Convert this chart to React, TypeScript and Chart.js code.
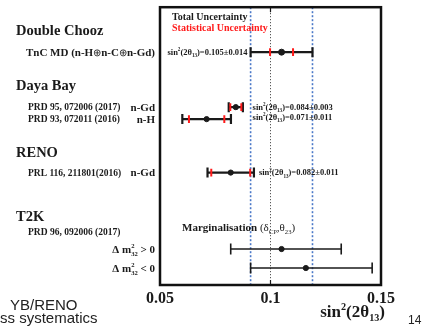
import React, { useEffect, useRef } from "react";
import { Chart, registerables } from "chart.js";

Chart.register(...registerables);

// ---- data ----
const experiments = [
  "Double Chooz TnC MD",
  "Daya Bay n-Gd",
  "Daya Bay n-H",
  "RENO n-Gd",
  "T2K Δm²32 > 0",
  "T2K Δm²32 < 0",
];
const rowPos = [4.5, 10.0, 11.2, 16.55, 24.2, 26.1];
const central = [0.105, 0.0843, 0.0711, 0.082, 0.105, 0.116];
const errLow = [0.014, 0.0032, 0.011, 0.0105, 0.023, 0.025];
const errHigh = [0.014, 0.0032, 0.011, 0.0105, 0.027, 0.03];
const statErr = [0.0052, 0.0025, 0.008, 0.0088, 0, 0];
const resultText = ["0.105±0.014", "0.084±0.003", "0.071±0.011", "0.082±0.011", "", ""];
const xTicks = [0.05, 0.1, 0.15];
const xTickLabels = ["0.05", "0.1", "0.15"];
const refValue = 0.1;
const bandLow = central[0] - errLow[0];
const bandHigh = central[0] + errHigh[0];
const Y_MAX = 27.8;

const SERIF = '"Liberation Serif", "Times New Roman", serif';
const SANS = '"Liberation Sans", Arial, sans-serif';
const INK = "#1a1a1a";
const RED = "#ff1a1a";
const BLUE = "#4a78c8";

type Seg = { t: string; s?: number; dy?: number; adv?: boolean; w?: string };

function rich(
  ctx: CanvasRenderingContext2D,
  segs: Seg[],
  x: number,
  yc: number,
  size: number,
  align: "left" | "right" | "center",
  color: string,
  weight = "bold",
  family = SERIF
) {
  const base = yc + size * 0.34;
  const ws = segs.map((g) => {
    ctx.font = `${g.w ?? weight} ${size * (g.s ?? 1)}px ${family}`;
    return g.adv === false ? 0 : ctx.measureText(g.t).width;
  });
  const total = ws.reduce((a, b) => a + b, 0);
  let cx = align === "right" ? x - total : align === "center" ? x - total / 2 : x;
  ctx.fillStyle = color;
  ctx.textAlign = "left";
  ctx.textBaseline = "alphabetic";
  segs.forEach((g, i) => {
    ctx.font = `${g.w ?? weight} ${size * (g.s ?? 1)}px ${family}`;
    ctx.fillText(g.t, cx, base + (g.dy ?? 0) * size);
    cx += ws[i];
  });
}

const sup = (t: string, extra: Partial<Seg> = {}): Seg => ({ t, s: 0.6, dy: -0.42, ...extra });
const sub = (t: string, extra: Partial<Seg> = {}): Seg => ({ t, s: 0.6, dy: 0.25, ...extra });
const sinLabel = (v: string): Seg[] => [
  { t: "sin" },
  sup("2"),
  { t: "(2θ" },
  sub("13"),
  { t: ")=" + v },
];

const overlayPlugin = {
  id: "overlay",
  afterDraw(chart: any) {
    const ctx: CanvasRenderingContext2D = chart.ctx;
    const { left, right, top, bottom } = chart.chartArea;
    const xs = chart.scales.x;
    const ys = chart.scales.y;
    const px = (v: number) => xs.getPixelForValue(v);
    const py = (v: number) => ys.getPixelForValue(v);
    ctx.save();

    // ticks inside frame
    ctx.strokeStyle = INK;
    ctx.lineWidth = 1.2;
    xTicks.forEach((t) => {
      const x = px(t);
      ctx.beginPath();
      ctx.moveTo(x, bottom);
      ctx.lineTo(x, bottom - 5);
      ctx.moveTo(x, top);
      ctx.lineTo(x, top + 5);
      ctx.stroke();
    });

    // frame
    ctx.lineWidth = 2.5;
    ctx.strokeStyle = "#111";
    ctx.strokeRect(left, top, right - left, bottom - top);

    // legend
    rich(ctx, [{ t: "Total Uncertainty" }], 172, py(0.9), 10, "left", INK);
    rich(ctx, [{ t: "Statistical Uncertainty" }], 172, py(2.0), 10, "left", RED);

    // result labels
    rich(ctx, sinLabel(resultText[0]), px(central[0] - errLow[0]) - 3, py(rowPos[0]), 8.5, "right", INK);
    rich(ctx, sinLabel(resultText[1]), px(bandLow) + 2, py(rowPos[1]), 8.5, "left", INK);
    rich(ctx, sinLabel(resultText[2]), px(bandLow) + 2, py(rowPos[2]) - 2, 8.5, "left", INK);
    rich(ctx, sinLabel(resultText[3]), px(central[3] + errHigh[3]) + 5, py(rowPos[3]), 8.5, "left", INK);

    // marginalisation
    rich(
      ctx,
      [
        { t: "Marginalisation " },
        { t: "(δ", w: "normal" },
        sub("CP", { w: "normal" }),
        { t: ",θ", w: "normal" },
        sub("23", { w: "normal" }),
        { t: ")", w: "normal" },
      ],
      182,
      py(22.0),
      11,
      "left",
      INK
    );

    // left labels
    const headX = 16;
    const refRight = 155;
    const refLeft = 28;
    rich(ctx, [{ t: "Double Chooz" }], headX, py(2.3), 14.5, "left", INK);
    rich(
      ctx,
      [
        { t: "TnC MD (n-H" },
        { t: "⊕", w: "normal", s: 0.95 },
        { t: "n-C" },
        { t: "⊕", w: "normal", s: 0.95 },
        { t: "n-Gd)" },
      ],
      refRight,
      py(rowPos[0]),
      11,
      "right",
      INK
    );
    rich(ctx, [{ t: "Daya Bay" }], headX, py(7.8), 14.5, "left", INK);
    rich(ctx, [{ t: "PRD 95, 072006 (2017)" }], refLeft, py(rowPos[1]), 9.5, "left", INK);
    rich(ctx, [{ t: "n-Gd" }], refRight, py(rowPos[1]), 11, "right", INK);
    rich(ctx, [{ t: "PRD 93, 072011 (2016)" }], refLeft, py(rowPos[2]), 9.5, "left", INK);
    rich(ctx, [{ t: "n-H" }], refRight, py(rowPos[2]), 11, "right", INK);
    rich(ctx, [{ t: "RENO" }], headX, py(14.5), 14.5, "left", INK);
    rich(ctx, [{ t: "PRL 116, 211801(2016)" }], refLeft, py(rowPos[3]), 9.5, "left", INK);
    rich(ctx, [{ t: "n-Gd" }], refRight, py(rowPos[3]), 11, "right", INK);
    rich(ctx, [{ t: "T2K" }], headX, py(20.9), 14.5, "left", INK);
    rich(ctx, [{ t: "PRD 96, 092006 (2017)" }], refLeft, py(22.5), 9.5, "left", INK);
    [" > 0", " < 0"].forEach((tail, k) => {
      rich(
        ctx,
        [{ t: "Δ m" }, sup("2", { adv: false }), sub("32"), { t: tail }],
        refRight,
        py(rowPos[4 + k]),
        11,
        "right",
        INK
      );
    });

    // axis title
    rich(
      ctx,
      [{ t: "sin" }, sup("2"), { t: "(2θ" }, sub("13"), { t: ")" }],
      385,
      311,
      17,
      "right",
      INK
    );

    // slide remnants
    ctx.fillStyle = "#222";
    ctx.font = `15px ${SANS}`;
    ctx.textAlign = "left";
    ctx.textBaseline = "alphabetic";
    ctx.fillText("YB/RENO", 10, 310);
    ctx.fillText("ss systematics", 0, 323);
    ctx.font = `12px ${SANS}`;
    ctx.fillText("14", 408, 324);

    ctx.restore();
  },
};

export default function App() {
  const ref = useRef<HTMLCanvasElement>(null);
  useEffect(() => {
    const datasets: any[] = [];
    // central points
    datasets.push({
      label: "central",
      data: experiments.map((_, i) => ({ x: central[i], y: rowPos[i] })),
      pointRadius: experiments.map((_, i) => (i === 0 ? 3 : 2.6)),
      pointBackgroundColor: INK,
      pointBorderColor: INK,
      showLine: false,
      order: 0,
    });
    // stat ticks
    const statPts: any[] = [];
    experiments.forEach((_, i) => {
      if (statErr[i] > 0) {
        statPts.push({ x: central[i] - statErr[i], y: rowPos[i] });
        statPts.push({ x: central[i] + statErr[i], y: rowPos[i] });
      }
    });
    datasets.push({
      label: "stat",
      data: statPts,
      pointStyle: "line",
      rotation: 90,
      pointRadius: 3.8,
      pointBorderWidth: 2,
      pointBorderColor: RED,
      pointBackgroundColor: RED,
      showLine: false,
      order: 1,
    });
    // total error bars
    experiments.forEach((name, i) => {
      const thin = i >= 4;
      datasets.push({
        label: name,
        data: [
          { x: central[i] - errLow[i], y: rowPos[i] },
          { x: central[i] + errHigh[i], y: rowPos[i] },
        ],
        showLine: true,
        borderColor: INK,
        borderWidth: thin ? 1.6 : 2.2,
        pointStyle: "line",
        rotation: 90,
        pointRadius: thin ? 5.5 : 5,
        pointBorderWidth: thin ? 1.6 : 2.2,
        pointBorderColor: INK,
        order: 2,
      });
    });
    // reference dotted line
    datasets.push({
      label: "ref",
      data: [
        { x: refValue, y: 0 },
        { x: refValue, y: Y_MAX },
      ],
      showLine: true,
      borderColor: "#333",
      borderWidth: 1,
      borderDash: [1, 2],
      pointRadius: 0,
      order: 3,
    });
    [bandLow, bandHigh].forEach((v, k) => {
      datasets.push({
        label: "band" + k,
        data: [
          { x: v, y: 0 },
          { x: v, y: Y_MAX },
        ],
        showLine: true,
        borderColor: BLUE,
        borderWidth: 1.6,
        borderDash: [2, 2],
        pointRadius: 0,
        order: 3,
      });
    });

    const chart = new Chart(ref.current!, {
      type: "scatter",
      data: { datasets },
      options: {
        animation: false,
        responsive: false,
        layout: { padding: { left: 160, right: 41, top: 7, bottom: 12 } },
        plugins: { legend: { display: false }, tooltip: { enabled: false } },
        scales: {
          x: {
            type: "linear",
            min: 0.05,
            max: 0.15,
            afterBuildTicks: (axis: any) => {
              axis.ticks = xTicks.map((v) => ({ value: v }));
            },
            afterFit: (axis: any) => {
              axis.height = 30;
            },
            grid: { display: false, drawTicks: false },
            border: { display: false },
            ticks: {
              padding: 4,
              color: INK,
              font: { family: SERIF, size: 16, weight: "bold" },
              callback: (v: any) => {
                const idx = xTicks.findIndex((t) => Math.abs(t - Number(v)) < 1e-9);
                return idx >= 0 ? xTickLabels[idx] : "";
              },
              maxRotation: 0,
            },
          },
          y: {
            type: "linear",
            min: 0,
            max: Y_MAX,
            reverse: true,
            display: false,
          },
        },
      },
      plugins: [overlayPlugin],
    } as any);
    return () => chart.destroy();
  }, []);
  return (
    <div style={{ position: "absolute", left: 0, top: 0, width: 422, height: 327, background: "#fff" }}>
      <canvas ref={ref} width={422} height={327} style={{ display: "block", width: 422, height: 327 }} />
    </div>
  );
}
